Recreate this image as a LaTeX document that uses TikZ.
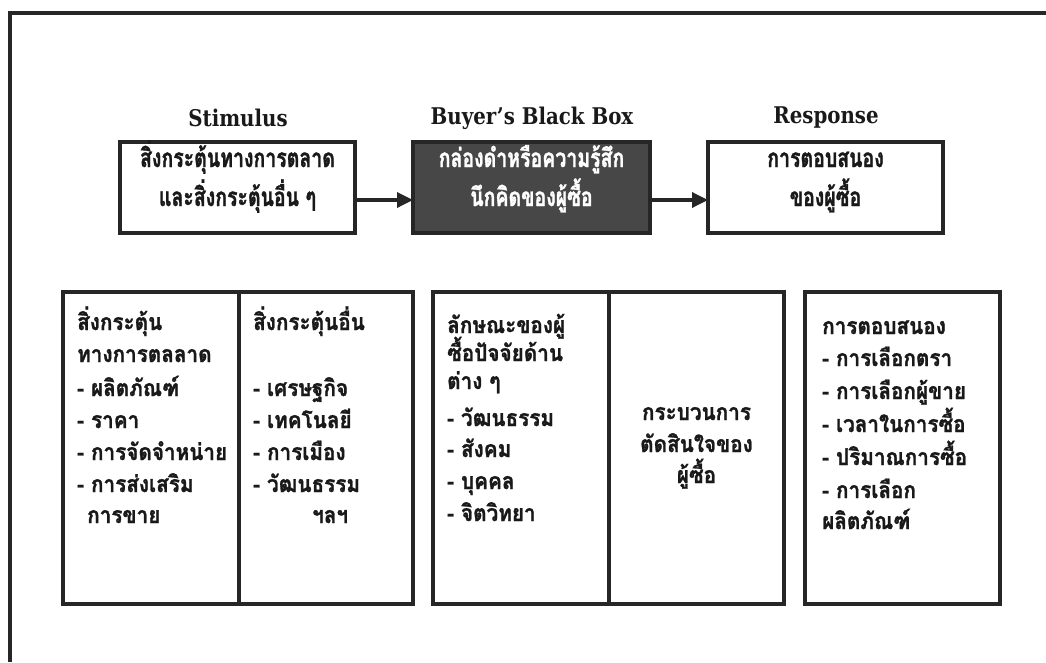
\documentclass[tikz,border=0pt]{standalone}
\usepackage{fontspec}
\newfontfamily\thaibig[Script=Thai, FakeStretch=0.75, BoldFeatures={FakeBold=1.2}]{Loma}
\newfontfamily\thai[Script=Thai, FakeStretch=0.9, BoldFeatures={FakeBold=1.2}]{Loma}
\newfontfamily\ttlfont[FakeStretch=0.86]{DejaVu Serif}
\usetikzlibrary{arrows.meta}

\begin{document}
\begin{tikzpicture}[x=1pt,y=-1pt,
  edge/.style={line width=3.4pt, draw=black!85},
  box/.style={edge, rectangle, fill=white, inner sep=0pt, outer sep=0pt, anchor=north west},
  darkbox/.style={box, fill=black!72},
  ttl/.style={font=\ttlfont\bfseries\fontsize{23}{27}\selectfont, text=black!90, inner sep=0pt},
  big/.style={font=\thaibig\bfseries\fontsize{26}{30}\selectfont, text=black!90, inner sep=0pt, anchor=base},
  bigw/.style={big, text=white},
  ln/.style={font=\thai\bfseries\fontsize{23}{27}\selectfont, text=black!90, inner sep=0pt, anchor=base west},
  lnc/.style={ln, anchor=base},
  arr/.style={edge, -{Triangle[length=16pt, width=15pt]}}]
\useasboundingbox (0,0) rectangle (1046,662);

% outer frame (top and left sides)
\draw[line width=4pt, draw=black!85] (1046,13) -- (10,13) -- (10,662);

% column headings
\node[ttl] (h1) at (238,118) {Stimulus};
\node[ttl] (h2) at (532,118) {Buyer’s Black Box};
\node[ttl] (h3) at (826,118) {Response};

% upper row of boxes
\node[box, minimum width=235pt, minimum height=91pt] (stim) at (120,142) {};
\node[darkbox, minimum width=237pt, minimum height=91pt] (bbox) at (413,142) {};
\node[box, minimum width=235pt, minimum height=91pt] (resp) at (708,142) {};

\node[big] (stim1) at (237.5,167) {สิ่งกระตุ้นทางการตลาด};
\node[big] (stim2) at (237.5,206) {และสิ่งกระตุ้นอื่น ๆ};
\node[bigw] (bb1) at (531.5,167) {กล่องดำหรือความรู้สึก};
\node[bigw] (bb2) at (531.5,206) {นึกคิดของผู้ซื้อ};
\node[big] (rs1) at (825.5,167) {การตอบสนอง};
\node[big] (rs2) at (825.5,206) {ของผู้ซื้อ};

\draw[arr] ([yshift=-12.5pt]stim.east) -- ([yshift=-12.5pt]bbox.west);
\draw[arr] ([yshift=-12.5pt]bbox.east) -- ([yshift=-12.5pt]resp.west);

% lower row of boxes
\node[box, minimum width=176pt, minimum height=312pt] (c1) at (63,292) {};
\node[box, minimum width=174pt, minimum height=312pt] (c2) at (239,292) {};
\node[box, minimum width=176pt, minimum height=312pt] (c3) at (433,292) {};
\node[box, minimum width=175pt, minimum height=312pt] (c4) at (609,292) {};
\node[box, minimum width=195pt, minimum height=312pt] (c5) at (805,292) {};

% marketing stimuli
\foreach \t/\y [count=\i] in {สิ่งกระตุ้น/330, ทางการตลลาด/362, - ผลิตภัณฑ์/396, - ราคา/428, - การจัดจำหน่าย/460, - การส่งเสริม/492}
  \node[ln] (m\i) at (77,\y) {\t};
\node[ln] (m7) at (87,523) {การขาย};

% other stimuli
\node[ln] (o1) at (253,330) {สิ่งกระตุ้นอื่น};
\foreach \t/\y [count=\i from 2] in {- เศรษฐกิจ/396, - เทคโนลยี/428, - การเมือง/460, - วัฒนธรรม/492}
  \node[ln] (o\i) at (253,\y) {\t};
\node[ln] (o6) at (312,523) {ฯลฯ};

% buyer characteristics
\foreach \t/\y [count=\i] in {ลักษณะของผู้/333, ซื้อปัจจัยด้าน/361, ต่าง ๆ/389, - วัฒนธรรม/426, - สังคม/457, - บุคคล/489, - จิตวิทยา/521}
  \node[ln] (k\i) at (447,\y) {\t};

% buyer decision process
\foreach \t/\y [count=\i] in {กระบวนการ/420, ตัดสินใจของ/452, ผู้ซื้อ/483}
  \node[lnc] (d\i) at (696.5,\y) {\t};

% buyer responses
\foreach \t/\y [count=\i] in {การตอบสนอง/334, - การเลือกตรา/366, - การเลือกผู้ขาย/399, - เวลาในการซื้อ/432, - ปริมาณการซื้อ/465, - การเลือก/498, ผลิตภัณฑ์/529}
  \node[ln] (r\i) at (822,\y) {\t};
\end{tikzpicture}
\end{document}
